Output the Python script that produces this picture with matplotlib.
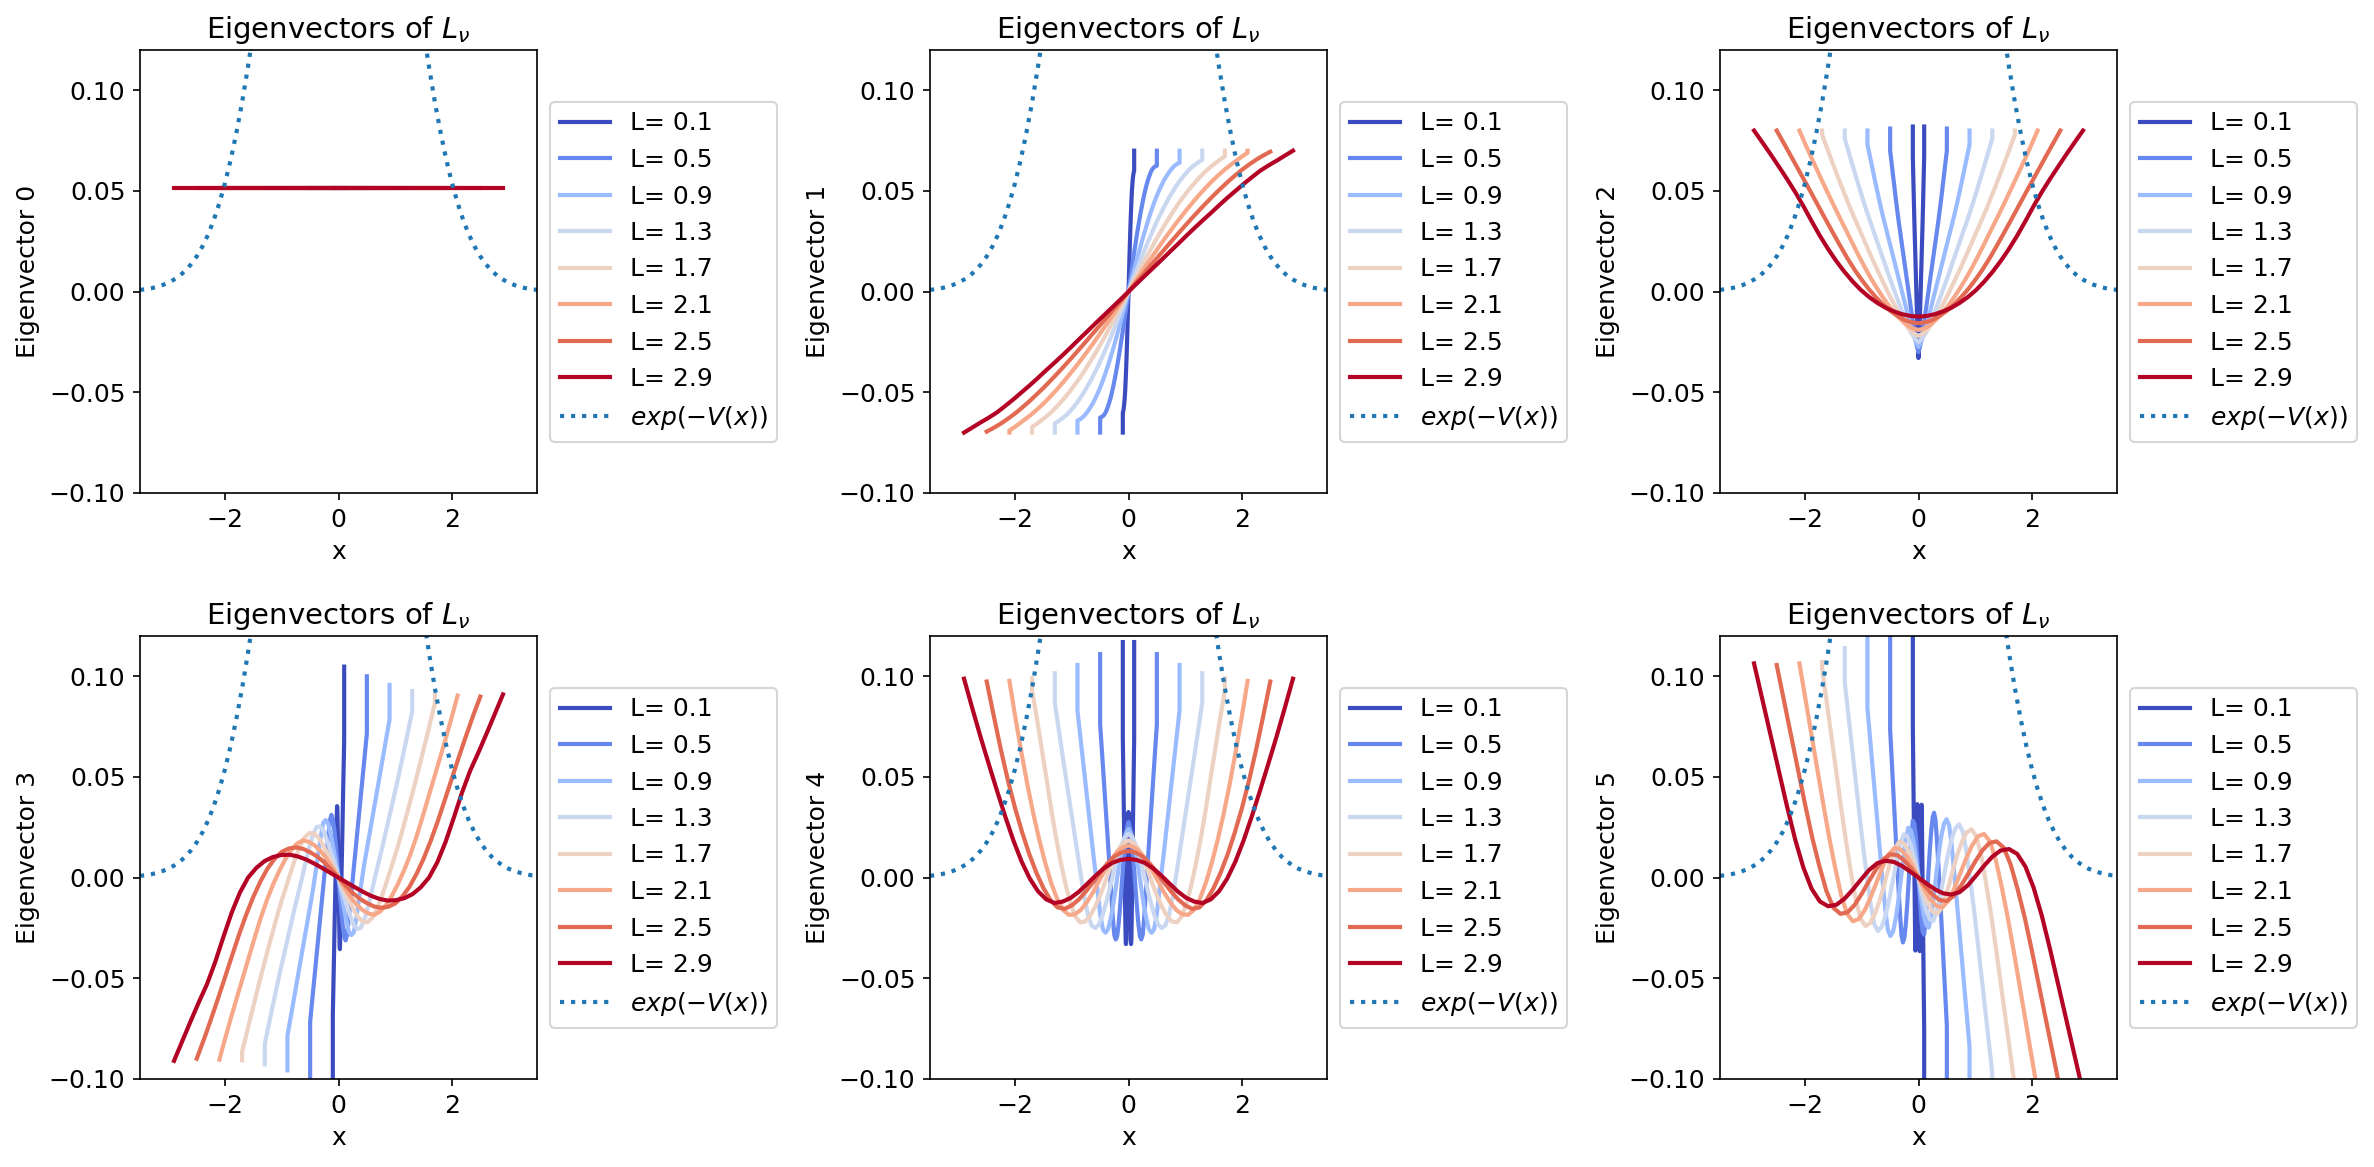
import numpy as np
import matplotlib
matplotlib.use("Agg")
import matplotlib.pyplot as plt

# box sizes L, one curve per L on x in [-L, L]
L_values = [0.1, 0.5, 0.9, 1.3, 1.7, 2.1, 2.5, 2.9]

# relative positions s = x / L on the right half; the last node is
# repeated because most curves end with a short vertical hook
s_nodes = [0.0, 0.05, 0.1, 0.15, 0.2, 0.25, 0.3, 0.35, 0.4, 0.45, 0.5,
           0.55, 0.6, 0.65, 0.7, 0.75, 0.8, 0.85, 0.9, 0.95, 1.0, 1.0]

# eigenvector 0 is flat
vec0_level = [0.0513, 0.0513, 0.0513, 0.0513, 0.0513, 0.0513, 0.0513, 0.0513]

# right-half values (x >= 0), one row per L
vec1_half = [  # odd
    [0, .0050, .0100, .0150, .0200, .0246, .0290, .0331, .0370, .0406, .0440, .0471, .0500, .0521, .0540, .0556, .0570, .0581, .0590, .0596, .0600, .0700],
    [0, .0050, .0099, .0148, .0195, .0241, .0286, .0329, .0370, .0409, .0445, .0479, .0510, .0537, .0560, .0580, .0598, .0610, .0618, .0623, .0625, .0700],
    [0, .0049, .0098, .0146, .0193, .0239, .0283, .0325, .0366, .0404, .0440, .0473, .0503, .0530, .0555, .0576, .0595, .0611, .0625, .0634, .0640, .0700],
    [0, .0048, .0096, .0143, .0190, .0235, .0278, .0320, .0360, .0397, .0433, .0466, .0497, .0526, .0552, .0576, .0597, .0615, .0630, .0643, .0655, .0700],
    [0, .0046, .0092, .0138, .0183, .0227, .0270, .0311, .0350, .0388, .0425, .0458, .0490, .0520, .0548, .0574, .0598, .0619, .0638, .0656, .0672, .0700],
    [0, .0044, .0088, .0132, .0175, .0218, .0260, .0300, .0340, .0378, .0415, .0451, .0485, .0517, .0548, .0576, .0602, .0626, .0648, .0670, .0690, .0700],
    [0, .0042, .0083, .0125, .0166, .0207, .0248, .0288, .0328, .0367, .0405, .0442, .0478, .0512, .0545, .0576, .0605, .0631, .0655, .0676, .0695, .0695],
    [0, .0040, .0079, .0118, .0157, .0197, .0236, .0276, .0315, .0353, .0390, .0428, .0465, .0500, .0535, .0568, .0600, .0626, .0650, .0675, .0700, .0700],
]
vec2_half = [  # even
    [-.0330, -.0303, -.0270, -.0227, -.0180, -.0130, -.0080, -.0030, .0020, .0070, .0120, .0170, .0220, .0270, .0320, .0375, .0430, .0490, .0550, .0610, .0670, .0820],
    [-.0300, -.0275, -.0240, -.0197, -.0150, -.0100, -.0050, .0000, .0050, .0100, .0150, .0200, .0250, .0300, .0350, .0405, .0460, .0520, .0580, .0640, .0700, .0810],
    [-.0275, -.0250, -.0215, -.0172, -.0124, -.0074, -.0024, .0027, .0077, .0127, .0177, .0228, .0278, .0328, .0378, .0432, .0489, .0548, .0609, .0670, .0730, .0800],
    [-.0250, -.0232, -.0205, -.0165, -.0119, -.0072, -.0023, .0027, .0078, .0131, .0184, .0237, .0290, .0343, .0396, .0454, .0513, .0573, .0634, .0697, .0760, .0800],
    [-.0220, -.0207, -.0185, -.0150, -.0110, -.0066, -.0020, .0030, .0080, .0132, .0185, .0240, .0295, .0350, .0405, .0465, .0525, .0587, .0650, .0715, .0780, .0800],
    [-.0190, -.0183, -.0165, -.0138, -.0106, -.0069, -.0027, .0018, .0067, .0120, .0176, .0235, .0295, .0354, .0414, .0476, .0538, .0602, .0666, .0732, .0800, .0800],
    [-.0157, -.0152, -.0140, -.0120, -.0095, -.0064, -.0028, .0012, .0058, .0108, .0164, .0225, .0288, .0352, .0417, .0482, .0546, .0610, .0674, .0737, .0800, .0800],
    [-.0124, -.0121, -.0112, -.0098, -.0080, -.0056, -.0027, .0008, .0050, .0098, .0152, .0212, .0278, .0350, .0425, .0495, .0560, .0622, .0683, .0742, .0800, .0800],
]
vec3_half = [  # odd
    [0, -.0095, -.0180, -.0265, -.0335, -.0355, -.0310, -.0240, -.0170, -.0100, -.0030, .0040, .0110, .0180, .0250, .0325, .0400, .0470, .0540, .0610, .0680, .1048],
    [0, -.0090, -.0170, -.0240, -.0290, -.0312, -.0285, -.0220, -.0145, -.0078, -.0010, .0063, .0135, .0208, .0280, .0352, .0425, .0498, .0570, .0643, .0715, .1000],
    [0, -.0075, -.0145, -.0210, -.0265, -.0286, -.0272, -.0200, -.0110, -.0025, .0060, .0133, .0206, .0278, .0350, .0423, .0495, .0568, .0640, .0713, .0785, .0957],
    [0, -.0065, -.0125, -.0180, -.0230, -.0255, -.0250, -.0210, -.0145, -.0070, .0010, .0085, .0160, .0240, .0320, .0400, .0480, .0565, .0650, .0738, .0825, .0927],
    [0, -.0054, -.0105, -.0152, -.0195, -.0218, -.0222, -.0200, -.0155, -.0092, -.0020, .0055, .0130, .0213, .0300, .0390, .0480, .0575, .0670, .0768, .0866, .0907],
    [0, -.0049, -.0095, -.0132, -.0160, -.0178, -.0185, -.0168, -.0135, -.0088, -.0030, .0035, .0110, .0195, .0290, .0390, .0490, .0590, .0690, .0795, .0904, .0904],
    [0, -.0039, -.0076, -.0105, -.0126, -.0143, -.0150, -.0145, -.0128, -.0094, -.0046, .0018, .0094, .0182, .0280, .0386, .0494, .0601, .0705, .0805, .0899, .0899],
    [0, -.0024, -.0048, -.0071, -.0091, -.0106, -.0114, -.0112, -.0102, -.0082, -.0048, .0000, .0075, .0175, .0295, .0420, .0530, .0620, .0715, .0812, .0910, .0910],
]
vec4_half = [  # even
    [.0326, .0300, .0250, .0170, .0080, -.0030, -.0140, -.0240, -.0310, -.0330, -.0310, -.0230, -.0130, -.0020, .0090, .0190, .0290, .0390, .0490, .0590, .0690, .1170],
    [.0276, .0250, .0200, .0125, .0040, -.0058, -.0150, -.0232, -.0290, -.0307, -.0285, -.0205, -.0095, .0015, .0122, .0230, .0335, .0442, .0550, .0655, .0760, .1110],
    [.0243, .0222, .0180, .0115, .0035, -.0052, -.0135, -.0205, -.0255, -.0274, -.0258, -.0190, -.0080, .0030, .0140, .0255, .0370, .0485, .0600, .0715, .0830, .1056],
    [.0218, .0200, .0160, .0102, .0030, -.0048, -.0120, -.0185, -.0232, -.0250, -.0238, -.0185, -.0095, .0020, .0140, .0260, .0380, .0500, .0620, .0745, .0870, .1015],
    [.0185, .0172, .0145, .0098, .0035, -.0032, -.0095, -.0148, -.0190, -.0218, -.0222, -.0195, -.0130, -.0040, .0070, .0195, .0335, .0490, .0640, .0790, .0930, .0990],
    [.0160, .0150, .0125, .0085, .0035, -.0020, -.0075, -.0122, -.0160, -.0182, -.0185, -.0160, -.0105, -.0025, .0075, .0190, .0320, .0465, .0625, .0795, .0977, .0977],
    [.0132, .0125, .0105, .0070, .0025, -.0023, -.0068, -.0108, -.0138, -.0155, -.0148, -.0112, -.0052, .0025, .0117, .0225, .0345, .0482, .0635, .0802, .0974, .0974],
    [.0093, .0088, .0073, .0046, .0010, -.0030, -.0069, -.0100, -.0119, -.0126, -.0108, -.0068, -.0005, .0080, .0185, .0305, .0433, .0565, .0700, .0842, .0988, .0988],
]
vec5_half = [  # odd
    [0, -.0150, -.0280, -.0350, -.0365, -.0270, -.0120, .0030, .0160, .0265, .0340, .0362, .0290, .0160, .0030, -.0100, -.0230, -.0360, -.0490, -.0620, -.0750, -.1450],
    [0, -.0115, -.0215, -.0270, -.0283, -.0215, -.0100, .0025, .0140, .0235, .0300, .0322, .0285, .0185, .0065, -.0065, -.0195, -.0330, -.0465, -.0600, -.0735, -.1350],
    [0, -.0100, -.0185, -.0235, -.0248, -.0190, -.0090, .0020, .0125, .0210, .0268, .0290, .0260, .0160, .0025, -.0115, -.0260, -.0405, -.0550, -.0695, -.0840, -.1250],
    [0, -.0085, -.0160, -.0205, -.0215, -.0165, -.0080, .0020, .0115, .0192, .0245, .0265, .0230, .0130, -.0005, -.0150, -.0310, -.0475, -.0640, -.0805, -.0970, -.1140],
    [0, -.0070, -.0130, -.0170, -.0178, -.0140, -.0065, .0025, .0110, .0178, .0225, .0240, .0205, .0110, -.0025, -.0175, -.0340, -.0515, -.0690, -.0865, -.1040, -.1070],
    [0, -.0058, -.0108, -.0140, -.0148, -.0115, -.0055, .0020, .0095, .0160, .0205, .0217, .0180, .0085, -.0050, -.0200, -.0367, -.0540, -.0715, -.0890, -.1064, -.1064],
    [0, -.0045, -.0085, -.0112, -.0116, -.0090, -.0040, .0018, .0080, .0135, .0172, .0180, .0150, .0065, -.0060, -.0200, -.0364, -.0537, -.0710, -.0883, -.1056, -.1056],
    [0, -.0030, -.0058, -.0078, -.0084, -.0072, -.0038, .0010, .0060, .0105, .0135, .0142, .0118, .0055, -.0050, -.0190, -.0356, -.0533, -.0710, -.0887, -.1064, -.1064],
]
vec_halves = [vec1_half, vec2_half, vec3_half, vec4_half, vec5_half]
vec_parity = [-1, 1, -1, 1, -1]

# exp(-V(x)) read on x = 0, 0.1, ..., 3.5 (the curve is symmetric)
dens_x = [0.0, 0.1, 0.2, 0.3, 0.4, 0.5, 0.6, 0.7, 0.8, 0.9, 1.0, 1.1,
          1.2, 1.3, 1.4, 1.5, 1.6, 1.7, 1.8, 1.9, 2.0, 2.1, 2.2, 2.3,
          2.4, 2.5, 2.6, 2.7, 2.8, 2.9, 3.0, 3.1, 3.2, 3.3, 3.4, 3.5]
dens_y = [.3989, .3970, .3910, .3814, .3683, .3521, .3332, .3123, .2897,
          .2661, .2420, .2179, .1942, .1714, .1497, .1295, .1109, .0940,
          .0790, .0656, .0540, .0440, .0355, .0283, .0224, .0175, .0136,
          .0104, .0079, .0060, .0044, .0033, .0024, .0017, .0012, .0009]

plt.rcParams['font.size'] = 12

W, H = 2374, 1167
fig = plt.figure(figsize=(W / 150, H / 150), dpi=150)

col_left = [140, 930, 1720]
row_top = [50, 636]
ax_w, ax_h = 397, 443

colors = plt.cm.coolwarm(np.linspace(0, 1, len(L_values)))
s = np.array(s_nodes)
dx = np.array(dens_x)
dy = np.array(dens_y)
dens_xx = np.concatenate([-dx[::-1], dx[1:]])
dens_yy = np.concatenate([dy[::-1], dy[1:]])

for k in range(6):
    r, c = divmod(k, 3)
    ax = fig.add_axes([col_left[c] / W, 1 - (row_top[r] + ax_h) / H,
                       ax_w / W, ax_h / H])

    for i, L in enumerate(L_values):
        if k == 0:
            xs = [-L, L]
            ys = [vec0_level[i], vec0_level[i]]
        else:
            half = np.array(vec_halves[k - 1][i])
            sign = vec_parity[k - 1]
            xs = np.concatenate([-s[::-1], s[1:]]) * L
            ys = np.concatenate([sign * half[::-1], half[1:]])
        ax.plot(xs, ys, color=colors[i], lw=2, label=f"L= {L}")

    # density drawn last so it sits on top
    ax.plot(dens_xx, dens_yy, ':', color='#1f77b4', lw=2,
            label=r"$exp(-V(x))$")

    ax.set_xlim(-3.5, 3.5)
    ax.set_ylim(-0.1, 0.12)
    ax.set_xticks([-2, 0, 2])
    ax.set_yticks([-0.10, -0.05, 0.00, 0.05, 0.10])
    ax.set_xlabel("x")
    ax.set_ylabel(f"Eigenvector {k}")
    ax.set_title(r"Eigenvectors of $L_\nu$", fontsize=14)
    ax.legend(loc='center left', bbox_to_anchor=(1, 0.5))

fig.savefig("out.png", dpi=150)
